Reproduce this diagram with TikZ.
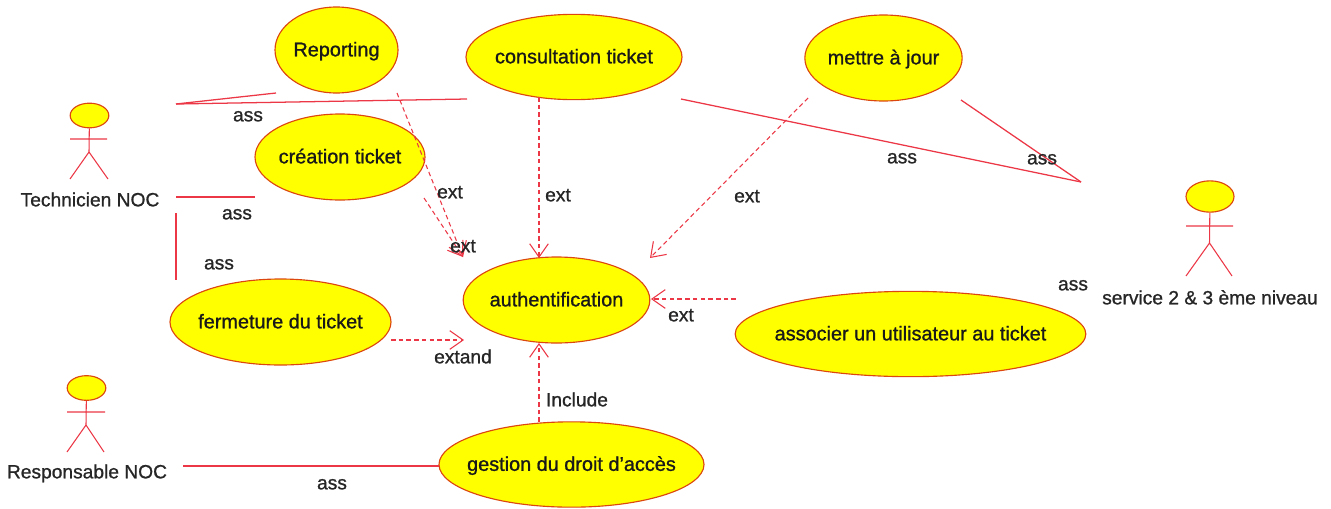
\documentclass[tikz,border=0pt]{standalone}
\usepackage{fontspec}
\setmainfont{Liberation Sans}[FakeBold=1.0]
\usetikzlibrary{shapes.geometric,arrows.meta}
\definecolor{umlred}{RGB}{235,55,70}
\definecolor{umledge}{RGB}{220,70,15}
\definecolor{umlyellow}{RGB}{255,255,0}
\tikzset{
  usecase/.style={ellipse,draw=umledge,fill=umlyellow,line width=0.85pt,inner xsep=-40pt,inner ysep=-8pt,text height=13pt,text depth=3.5pt,text=black!90,font=\fontsize{14.9pt}{16pt}\selectfont},
  lbl/.style={inner sep=0pt,text height=13pt,text depth=3.5pt,text=black!85,font=\fontsize{14.4pt}{16pt}\selectfont},
  actorhead/.style={ellipse,draw=umledge,fill=umlyellow,line width=0.85pt,inner sep=0pt},
  assoc/.style={draw=umlred,line width=0.95pt},
  limb/.style={draw=umlred,line width=0.8pt},
  dep/.style={draw=umlred,line width=0.8pt,dash pattern=on 3.4pt off 2.4pt,-{Straight Barb[length=10pt,width=14pt,line width=0.8pt]}}
}
\begin{document}
\begin{tikzpicture}[x=0.75pt,y=-0.75pt]
\useasboundingbox (0,0) rectangle (1331,508);
% use cases
\node[usecase,minimum width=92.25pt,minimum height=64.5pt] (rep) at (336.5,50) {Reporting};
\node[usecase,minimum width=162pt,minimum height=64pt] (cons) at (574,57) {consultation ticket};
\node[usecase,minimum width=118pt,minimum height=64.5pt] (maj) at (883.5,58) {mettre à jour};
\node[usecase,minimum width=127.5pt,minimum height=64.5pt] (crea) at (340,157) {création ticket};
\node[usecase,minimum width=140pt,minimum height=64.5pt] (auth) at (556.5,300) {authentification};
\node[usecase,minimum width=165.75pt,minimum height=64.5pt] (ferm) at (280.5,322) {fermeture du ticket};
\node[usecase,minimum width=263pt,minimum height=64pt] (asso) at (910.5,334) {associer un utilisateur au ticket};
\node[usecase,minimum width=198.75pt,minimum height=64pt] (gest) at (571.5,464.5) {gestion du droit d'accès};
% actors
\node[actorhead,minimum width=29pt,minimum height=18.5pt] (h1) at (89.5,115.5) {};
\coordinate (h1arml) at (70,139); \coordinate (h1armr) at (107,139);
\coordinate (h1hip) at (89,152); \coordinate (h1arm) at (89,139);
\coordinate (h1legl) at (70,179); \coordinate (h1legr) at (108,179);
\draw[limb] (h1) -- (h1hip) -- (h1legl) (h1hip) -- (h1legr) (h1arml) -- (h1armr);
\node[lbl] (t1) at (90,200) {Technicien NOC};
\node[actorhead,minimum width=36pt,minimum height=23.5pt] (h2) at (1210,196.5) {};
\coordinate (h2arml) at (1186,226); \coordinate (h2armr) at (1233,226);
\coordinate (h2hip) at (1209.5,243);
\coordinate (h2legl) at (1186,276); \coordinate (h2legr) at (1232,276);
\draw[limb] (h2) -- (h2hip) -- (h2legl) (h2hip) -- (h2legr) (h2arml) -- (h2armr);
\node[lbl] (t2) at (1210,298) {service 2 \& 3 ème niveau};
\node[actorhead,minimum width=29pt,minimum height=18.5pt] (h3) at (86.5,388) {};
\coordinate (h3arml) at (67,412); \coordinate (h3armr) at (105,412);
\coordinate (h3hip) at (86,425);
\coordinate (h3legl) at (67,452); \coordinate (h3legr) at (104,452);
\draw[limb] (h3) -- (h3hip) -- (h3legl) (h3hip) -- (h3legr) (h3arml) -- (h3armr);
\node[lbl] (t3) at (87,472) {Responsable NOC};
% association ends
\coordinate (a1) at (176,104); \coordinate (a1r) at (276,93); \coordinate (a1c) at (467,99);
\coordinate (a2) at (176,197); \coordinate (a2r) at (255,197);
\coordinate (a3) at (176,213); \coordinate (a3r) at (176,280);
\coordinate (a4) at (183,466); \coordinate (a4r) at (439,466);
\coordinate (a5) at (681,99); \coordinate (a6) at (961,100); \coordinate (a7) at (1081,182);
\draw[assoc] (a1) -- (a1r);
\draw[assoc] (a1) -- (a1c);
\draw[assoc] (a2) -- (a2r);
\draw[assoc] (a3) -- (a3r);
\draw[assoc] (a4) -- (a4r);
\draw[assoc] (a5) -- (a7);
\draw[assoc] (a6) -- (a7);
% dependency ends
\coordinate (d1) at (397,93); \coordinate (d2) at (424,198); \coordinate (dt) at (463,257);
\coordinate (d3) at (539,97); \coordinate (d3t) at (539,258);
\coordinate (d4) at (808,98); \coordinate (d4t) at (650,258);
\coordinate (d5) at (736,299); \coordinate (d5t) at (651,299);
\coordinate (d6) at (391,340); \coordinate (d6t) at (464,340);
\coordinate (d7) at (539,422); \coordinate (d7t) at (539,343);
\draw[dep] (d1) -- (dt);
\draw[dep] (d2) -- (dt);
\draw[dep] (d3) -- (d3t);
\draw[dep] (d4) -- (d4t);
\draw[dep] (d5) -- (d5t);
\draw[dep] (d6) -- (d6t);
\draw[dep] (d7) -- (d7t);
% labels
\node[lbl] (l1) at (248,115) {ass};
\node[lbl] (l2) at (237,213) {ass};
\node[lbl] (l3) at (219,263) {ass};
\node[lbl] (l4) at (450,192) {ext};
\node[lbl] (l5) at (463,246) {ext};
\node[lbl] (l6) at (558,195) {ext};
\node[lbl] (l7) at (747,196) {ext};
\node[lbl] (l8) at (902,157) {ass};
\node[lbl] (l9) at (1042,158) {ass};
\node[lbl] (l10) at (1073,284) {ass};
\node[lbl] (l11) at (681,315) {ext};
\node[lbl] (l12) at (463,357) {extand};
\node[lbl] (l13) at (577,400) {Include};
\node[lbl] (l14) at (332,483) {ass};
\end{tikzpicture}
\end{document}
